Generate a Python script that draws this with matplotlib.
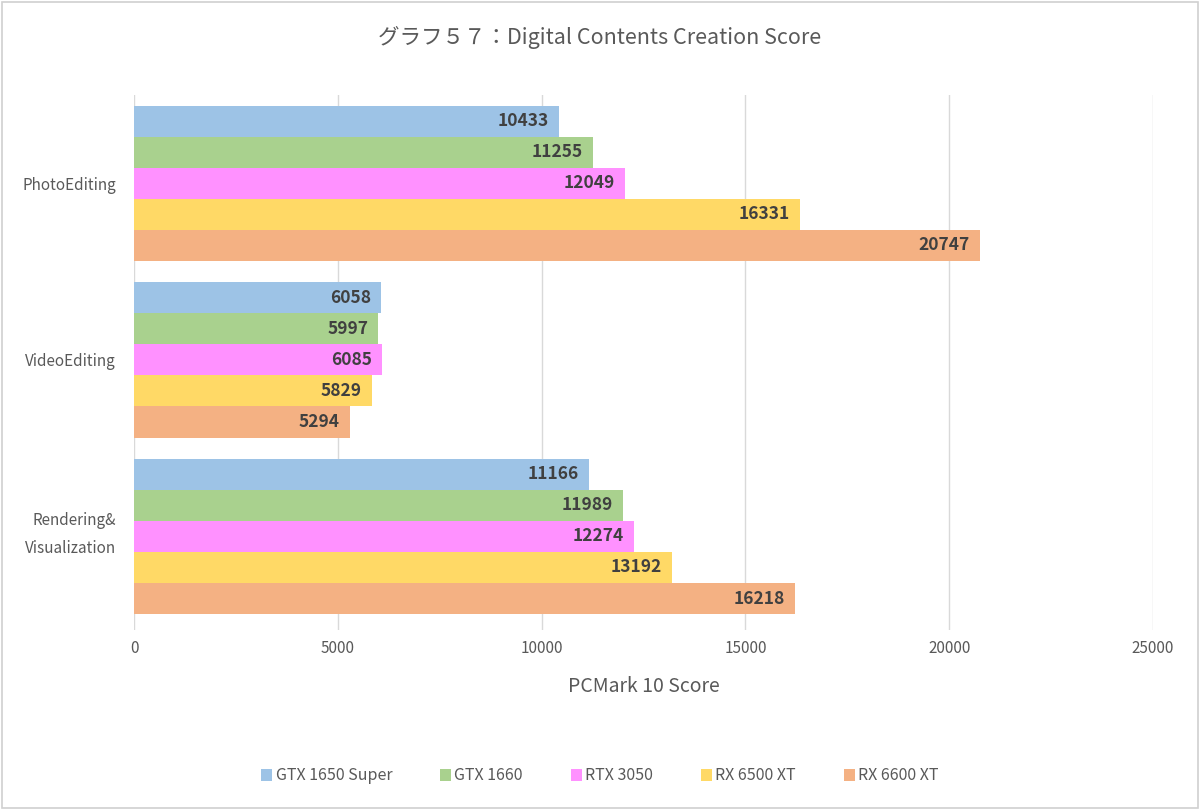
import matplotlib.pyplot as plt
import matplotlib.patches as patches
import numpy as np

plt.rcParams['font.family'] = ['Noto Sans CJK JP', 'DejaVu Sans']

categories = ['PhotoEditing', 'VideoEditing', 'Rendering&\nVisualization']
series_names = ['GTX 1650 Super', 'GTX 1660', 'RTX 3050', 'RX 6500 XT', 'RX 6600 XT']
scores = [
    [10433, 6058, 11166],   # GTX 1650 Super
    [11255, 5997, 11989],   # GTX 1660
    [12049, 6085, 12274],   # RTX 3050
    [16331, 5829, 13192],   # RX 6500 XT
    [20747, 5294, 16218],   # RX 6600 XT
]
colors = ['#9DC3E6', '#A9D18E', '#FF91FF', '#FFD966', '#F4B183']
xticks = [0, 5000, 10000, 15000, 20000, 25000]

fig = plt.figure(figsize=(12, 8.1), dpi=100)
ax = fig.add_axes([0.1117, 1 - 630 / 810, 0.8492, (630 - 95) / 810])

# light frame round the whole chart
fig.patches.append(patches.Rectangle((0.002, 0.002), 0.996, 0.996, transform=fig.transFigure,
                                     fill=False, edgecolor='#D0D0D0', linewidth=1.2))

n = len(series_names)
group_h = 0.88
bar_h = group_h / n
y = np.arange(len(categories))

for i, name in enumerate(series_names):
    pos = y - group_h / 2 + bar_h * (i + 0.5)
    bars = ax.barh(pos, scores[i], height=bar_h, color=colors[i], label=name, zorder=3)
    for b, v in zip(bars, scores[i]):
        ax.text(b.get_width() - 250, b.get_y() + b.get_height() / 2, str(v),
                ha='right', va='center', fontsize=12.5, fontweight='bold', color='#404040', zorder=4)

ax.set_xlim(0, 25000)
ax.set_ylim(2.53, -0.5)
ax.set_xticks(xticks)
ax.set_xticklabels([str(t) for t in xticks])
# two-line label sits a bit high in the original, so its tick is nudged up
ax.set_yticks([0, 1, 1.945])
ax.set_yticklabels(categories, linespacing=1.9)
ax.tick_params(axis='both', length=0, labelsize=11, labelcolor='#595959')
ax.tick_params(axis='x', pad=7)
ax.tick_params(axis='y', pad=13)
ax.grid(axis='x', color='#D9D9D9', linewidth=1, zorder=0)
for s in ax.spines.values():
    s.set_visible(False)

ax.set_xlabel('PCMark 10 Score', fontsize=14, color='#595959', labelpad=14)
fig.text(0.5, 1 - 37 / 810, 'グラフ５７：Digital Contents Creation Score', ha='center', va='center',
         fontsize=15.5, color='#595959')

fig.legend(loc='center', bbox_to_anchor=(0.5, 1 - 776 / 810), ncol=5, frameon=False,
           fontsize=11.5, labelcolor='#595959', handlelength=0.7, handleheight=0.7,
           handletextpad=0.2, columnspacing=3.0)

fig.savefig('out.png', dpi=100, facecolor='white')
